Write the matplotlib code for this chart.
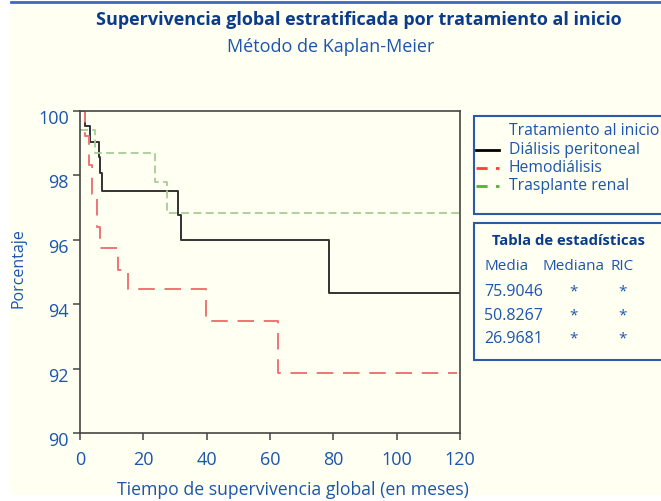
import numpy as np
import matplotlib.pyplot as plt
from matplotlib.patches import Rectangle
from matplotlib.lines import Line2D
from matplotlib.transforms import ScaledTranslation

plt.rcParams['font.family'] = ['Open Sans', 'DejaVu Sans']

# Curvas de Kaplan-Meier (tiempo en meses, supervivencia en %)
dp_t = [0, 1.6, 3.2, 6.0, 6.4, 6.8, 31.1, 31.8, 78.7, 120]
dp_s = [100, 99.52, 99.04, 98.56, 98.08, 97.5, 96.76, 96.0, 94.33, 94.33]

hd_t = [0, 1.5, 2.7, 3.8, 5.3, 6.2, 12.1, 15.3, 39.7, 62.6, 119]
hd_s = [100, 99.2, 98.3, 97.4, 96.4, 95.73, 95.05, 94.48, 93.48, 91.86, 91.86]

tr_t = [0, 4.7, 23.7, 27.4, 120]
tr_s = [99.4, 98.68, 97.8, 96.84, 96.84]

grupos = ["Diálisis peritoneal", "Hemodiálisis", "Trasplante renal"]
medias = ["75.9046", "50.8267", "26.9681"]
medianas = ["*", "*", "*"]
ric = ["*", "*", "*"]

xticks = [0, 20, 40, 60, 80, 100, 120]
yticks = [90, 92, 94, 96, 98, 100]

W, H = 661, 501
fig = plt.figure(figsize=(W / 100, H / 100), dpi=100, facecolor='white')

def fx(px):
    return px / W

def fy(py):
    return 1 - py / H

azul = '#1c55ad'
azul_osc = '#0b3c8c'
fondo = '#fffff2'

# fondo crema y línea superior
fig.patches.append(Rectangle((fx(10), fy(495)), fx(651), 487 / H, transform=fig.transFigure,
                             facecolor=fondo, edgecolor='none', zorder=-5))
fig.lines.append(Line2D([fx(11), 1], [fy(1.5), fy(1.5)], transform=fig.transFigure,
                        color='#3b6bb8', lw=2))

ax = fig.add_axes([fx(80), fy(433), fx(380), (433 - 110.7) / H])
ax.set_facecolor(fondo)

ax.step(dp_t, dp_s, where='post', color='#333333', lw=1.4)
ax.step(hd_t, hd_s, where='post', color='#f07474', lw=1.4, dashes=(8.5, 5))
ax.step(tr_t, tr_s, where='post', color='#a8cc98', lw=1.3, dashes=(4.4, 2.4))

ax.set_xlim(0, 120)
ax.set_ylim(90, 100)
ax.set_xticks(xticks)
ax.set_yticks(yticks)
for s in ax.spines.values():
    s.set_color('#444444')
    s.set_linewidth(1.2)
ax.tick_params(direction='out', length=5, width=1.1, color='#444444',
               labelcolor=azul, labelsize=13)
ax.tick_params(axis='x', pad=8)
ax.tick_params(axis='y', pad=3)
off = ScaledTranslation(0, -6 / 100, fig.dpi_scale_trans)
for lab in ax.get_yticklabels():
    lab.set_transform(lab.get_transform() + off)

# títulos
fig.text(fx(359), fy(20), "Supervivencia global estratificada por tratamiento al inicio",
         ha='center', va='center', fontsize=13.0, fontweight='bold', color=azul_osc)
fig.text(fx(331), fy(47), "Método de Kaplan-Meier", ha='center', va='center',
         fontsize=13, color=azul)
fig.text(fx(293), fy(490), "Tiempo de supervivencia global (en meses)", ha='center',
         va='center', fontsize=12.7, color=azul)
fig.text(fx(18), fy(268), "Porcentaje", ha='center', va='center', rotation=90,
         fontsize=11.5, color=azul)

# leyenda
fig.patches.append(Rectangle((fx(474), fy(214)), fx(200), 98 / H, transform=fig.transFigure,
                             facecolor=fondo, edgecolor='#2a5aa8', lw=1.5))
fig.text(fx(509), fy(131), "Tratamiento al inicio", ha='left', va='center',
         fontsize=11.3, color=azul)
estilos = [dict(color='black', lw=2), dict(color='#ff3b3b', lw=2, dashes=(4, 3)),
           dict(color='#55b035', lw=2, dashes=(4, 3))]
for i, (g, st) in enumerate(zip(grupos, estilos)):
    y = fy(150 + i * 18)
    fig.lines.append(Line2D([fx(476), fx(499)], [y, y], transform=fig.transFigure, **st))
    fig.text(fx(509), y, g, ha='left', va='center', fontsize=11.3, color=azul)

# tabla de estadísticas
fig.patches.append(Rectangle((fx(474), fy(360)), fx(200), 137 / H, transform=fig.transFigure,
                             facecolor=fondo, edgecolor='#2a5aa8', lw=1.5))
fig.text(fx(568), fy(241), "Tabla de estadísticas", ha='center', va='center',
         fontsize=10.7, fontweight='bold', color=azul_osc)
fig.text(fx(484), fy(266), "Media", ha='left', va='center', fontsize=11, color=azul)
fig.text(fx(543), fy(266), "Mediana", ha='left', va='center', fontsize=11, color=azul)
fig.text(fx(611), fy(266), "RIC", ha='left', va='center', fontsize=11, color=azul)
for i in range(3):
    y = fy(292 + i * 23.5)
    fig.text(fx(484), y, medias[i], ha='left', va='center', fontsize=11.5, color=azul)
    fig.text(fx(574), y, medianas[i], ha='center', va='center', fontsize=11, color=azul)
    fig.text(fx(623), y, ric[i], ha='center', va='center', fontsize=11, color=azul)

fig.savefig("out.png", dpi=100, facecolor=fig.get_facecolor())
